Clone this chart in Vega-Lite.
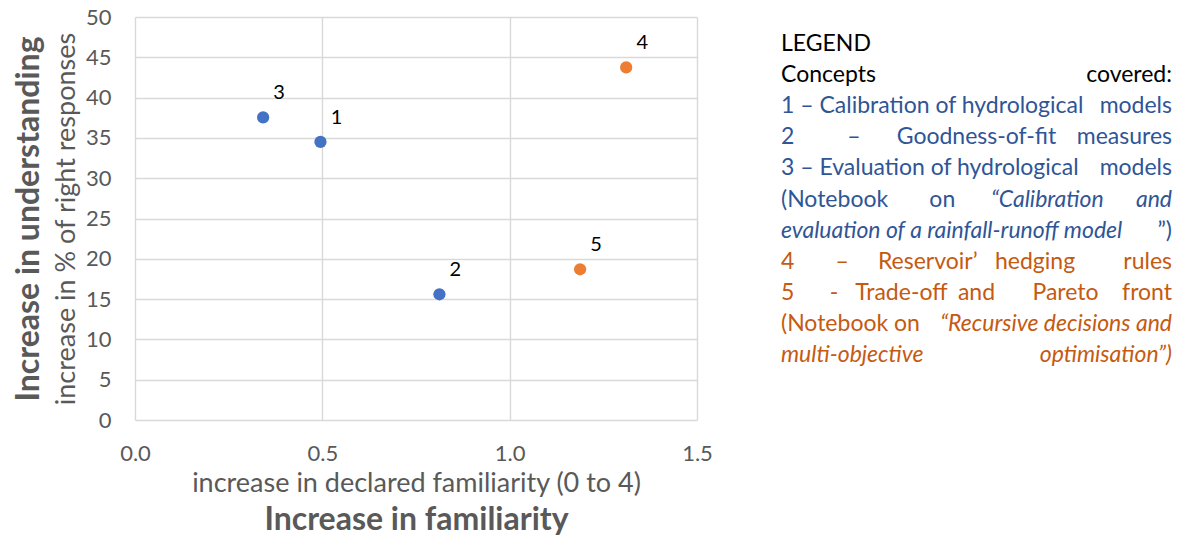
{
  "$schema": "https://vega.github.io/schema/vega-lite/v6.json",
  "padding": {"left": 12, "top": 6, "right": 5, "bottom": 5},
  "background": "white",
  "bounds": "flush",
  "spacing": 84,
  "resolve": {"scale": {"color": "independent"}},
  "config": {"view": {"stroke": null}, "font": "Lato"},
  "hconcat": [
    {
      "width": 562,
      "height": 403,
      "data": {"values": [
        {"concept": 1, "familiarity": 0.495, "understanding": 34.5, "notebook": "Calibration and evaluation"},
        {"concept": 2, "familiarity": 0.8125, "understanding": 15.6, "notebook": "Calibration and evaluation"},
        {"concept": 3, "familiarity": 0.342, "understanding": 37.55, "notebook": "Calibration and evaluation"},
        {"concept": 4, "familiarity": 1.311, "understanding": 43.75, "notebook": "Recursive decisions"},
        {"concept": 5, "familiarity": 1.188, "understanding": 18.7, "notebook": "Recursive decisions"}
      ]},
      "resolve": {"axis": {"x": "independent", "y": "independent"}},
      "layer": [
        {
          "mark": {"type": "circle", "size": 150, "opacity": 1},
          "encoding": {
            "x": {"field": "familiarity", "type": "quantitative",
              "scale": {"domain": [0, 1.5], "nice": false, "zero": false},
              "axis": {"values": [0, 0.5, 1, 1.5], "format": ".1f", "labelFontSize": 22, "labelColor": "#595959", "labelFlush": false,
                "labelPadding": 23, "ticks": false, "domain": false, "grid": true, "gridColor": "#d9d9d9", "gridWidth": 1.4,
                "title": "increase in declared familiarity (0 to 4)", "titleFontSize": 27, "titleFontWeight": "normal",
                "titleColor": "#595959", "titlePadding": 6}},
            "y": {"field": "understanding", "type": "quantitative",
              "scale": {"domain": [0, 50], "nice": false},
              "axis": {"values": [0, 5, 10, 15, 20, 25, 30, 35, 40, 45, 50], "labelFontSize": 22, "labelColor": "#595959",
                "labelPadding": 24, "ticks": false, "domain": false, "grid": true, "gridColor": "#d9d9d9", "gridWidth": 1.4,
                "title": "increase in % of right responses", "titleFontSize": 27, "titleFontWeight": "normal",
                "titleColor": "#595959", "titlePadding": 5}},
            "color": {"field": "notebook", "type": "nominal",
              "scale": {"domain": ["Calibration and evaluation", "Recursive decisions"], "range": ["#4472C4", "#ED7D31"]},
              "legend": null}
          }
        },
        {
          "mark": {"type": "text", "align": "center", "baseline": "middle", "dx": 16, "dy": -24, "fontSize": 20, "color": "#000000"},
          "encoding": {
            "x": {"field": "familiarity", "type": "quantitative",
              "axis": {"orient": "bottom", "labels": false, "ticks": false, "domain": false, "grid": false,
                "title": "Increase in familiarity", "titleFontSize": 32, "titleFontWeight": "bold",
                "titleColor": "#595959", "titlePadding": 84}},
            "y": {"field": "understanding", "type": "quantitative",
              "axis": {"orient": "left", "labels": false, "ticks": false, "domain": false, "grid": false,
                "title": "Increase in understanding", "titleFontSize": 32, "titleFontWeight": "bold",
                "titleColor": "#595959", "titlePadding": 90}},
            "text": {"field": "concept", "type": "nominal"}
          }
        }
      ]
    },
    {
      "width": 391,
      "height": 403,
      "data": {"values": [
        {"line": 0, "part": "start", "emph": "regular", "group": "head", "text": "LEGEND"},
        {"line": 1, "part": "start", "emph": "regular", "group": "head", "text": "Concepts"},
        {"line": 1, "part": "end", "emph": "regular", "group": "head", "text": "covered:"},
        {"line": 2, "part": "start", "emph": "regular", "group": "nb1", "text": "1 – Calibration of hydrological"},
        {"line": 2, "part": "end", "emph": "regular", "group": "nb1", "text": "models"},
        {"line": 3, "part": "start", "emph": "regular", "group": "nb1", "text": "2\u00a0\u00a0\u00a0\u00a0\u00a0\u00a0\u00a0\u00a0\u00a0–"},
        {"line": 3, "part": "mid", "emph": "regular", "group": "nb1", "text": "Goodness-of-fit"},
        {"line": 3, "part": "end", "emph": "regular", "group": "nb1", "text": "measures"},
        {"line": 4, "part": "start", "emph": "regular", "group": "nb1", "text": "3 – Evaluation of hydrological"},
        {"line": 4, "part": "end", "emph": "regular", "group": "nb1", "text": "models"},
        {"line": 5, "part": "start", "emph": "regular", "group": "nb1", "text": "(Notebook\u00a0\u00a0\u00a0\u00a0\u00a0\u00a0\u00a0on"},
        {"line": 5, "part": "end", "emph": "italic", "group": "nb1", "text": "“Calibration\u00a0\u00a0\u00a0\u00a0\u00a0\u00a0and"},
        {"line": 6, "part": "start", "emph": "italic", "group": "nb1", "text": "evaluation of a rainfall-runoff model"},
        {"line": 6, "part": "end", "emph": "regular", "group": "nb1", "text": "”)"},
        {"line": 7, "part": "start", "emph": "regular", "group": "nb2", "text": "4\u00a0\u00a0\u00a0\u00a0\u00a0\u00a0\u00a0–"},
        {"line": 7, "part": "mid", "emph": "regular", "group": "nb2", "text": "Reservoir’\u00a0\u00a0\u00a0hedging"},
        {"line": 7, "part": "end", "emph": "regular", "group": "nb2", "text": "rules"},
        {"line": 8, "part": "start", "emph": "regular", "group": "nb2", "text": "5\u00a0\u00a0\u00a0\u00a0\u00a0\u00a0-\u00a0\u00a0\u00a0Trade-off"},
        {"line": 8, "part": "mid", "emph": "regular", "group": "nb2", "text": "and"},
        {"line": 8, "part": "end", "emph": "regular", "group": "nb2", "text": "Pareto\u00a0\u00a0\u00a0\u00a0front"},
        {"line": 9, "part": "start", "emph": "regular", "group": "nb2", "text": "(Notebook on"},
        {"line": 9, "part": "end", "emph": "italic", "group": "nb2", "text": "“Recursive decisions and"},
        {"line": 10, "part": "start", "emph": "italic", "group": "nb2", "text": "multi-objective"},
        {"line": 10, "part": "end", "emph": "italic", "group": "nb2", "text": "optimisation”)"}
      ]},
      "encoding": {
        "x": {"field": "part", "type": "ordinal", "scale": {"type": "point", "domain": ["start", "mid", "end"], "padding": 0}, "axis": null},
        "y": {"field": "line", "type": "quantitative", "scale": {"domain": [-0.87, 12.09], "reverse": true, "nice": false, "zero": false}, "axis": null},
        "text": {"field": "text", "type": "nominal"},
        "color": {"field": "group", "type": "nominal", "scale": {"domain": ["head", "nb1", "nb2"], "range": ["#000000", "#2F5597", "#C55A11"]}, "legend": null}
      },
      "layer": [
        {"transform": [{"filter": "datum.part === 'start' && datum.emph === 'regular'"}],
         "mark": {"type": "text", "align": "left", "baseline": "middle", "fontSize": 23}},
        {"transform": [{"filter": "datum.part === 'start' && datum.emph === 'italic'"}],
         "mark": {"type": "text", "align": "left", "baseline": "middle", "fontSize": 23, "fontStyle": "italic"}},
        {"transform": [{"filter": "datum.part === 'mid'"}],
         "mark": {"type": "text", "align": "center", "baseline": "middle", "fontSize": 23}},
        {"transform": [{"filter": "datum.part === 'end' && datum.emph === 'regular'"}],
         "mark": {"type": "text", "align": "right", "baseline": "middle", "fontSize": 23}},
        {"transform": [{"filter": "datum.part === 'end' && datum.emph === 'italic'"}],
         "mark": {"type": "text", "align": "right", "baseline": "middle", "fontSize": 23, "fontStyle": "italic"}}
      ]
    }
  ]
}
